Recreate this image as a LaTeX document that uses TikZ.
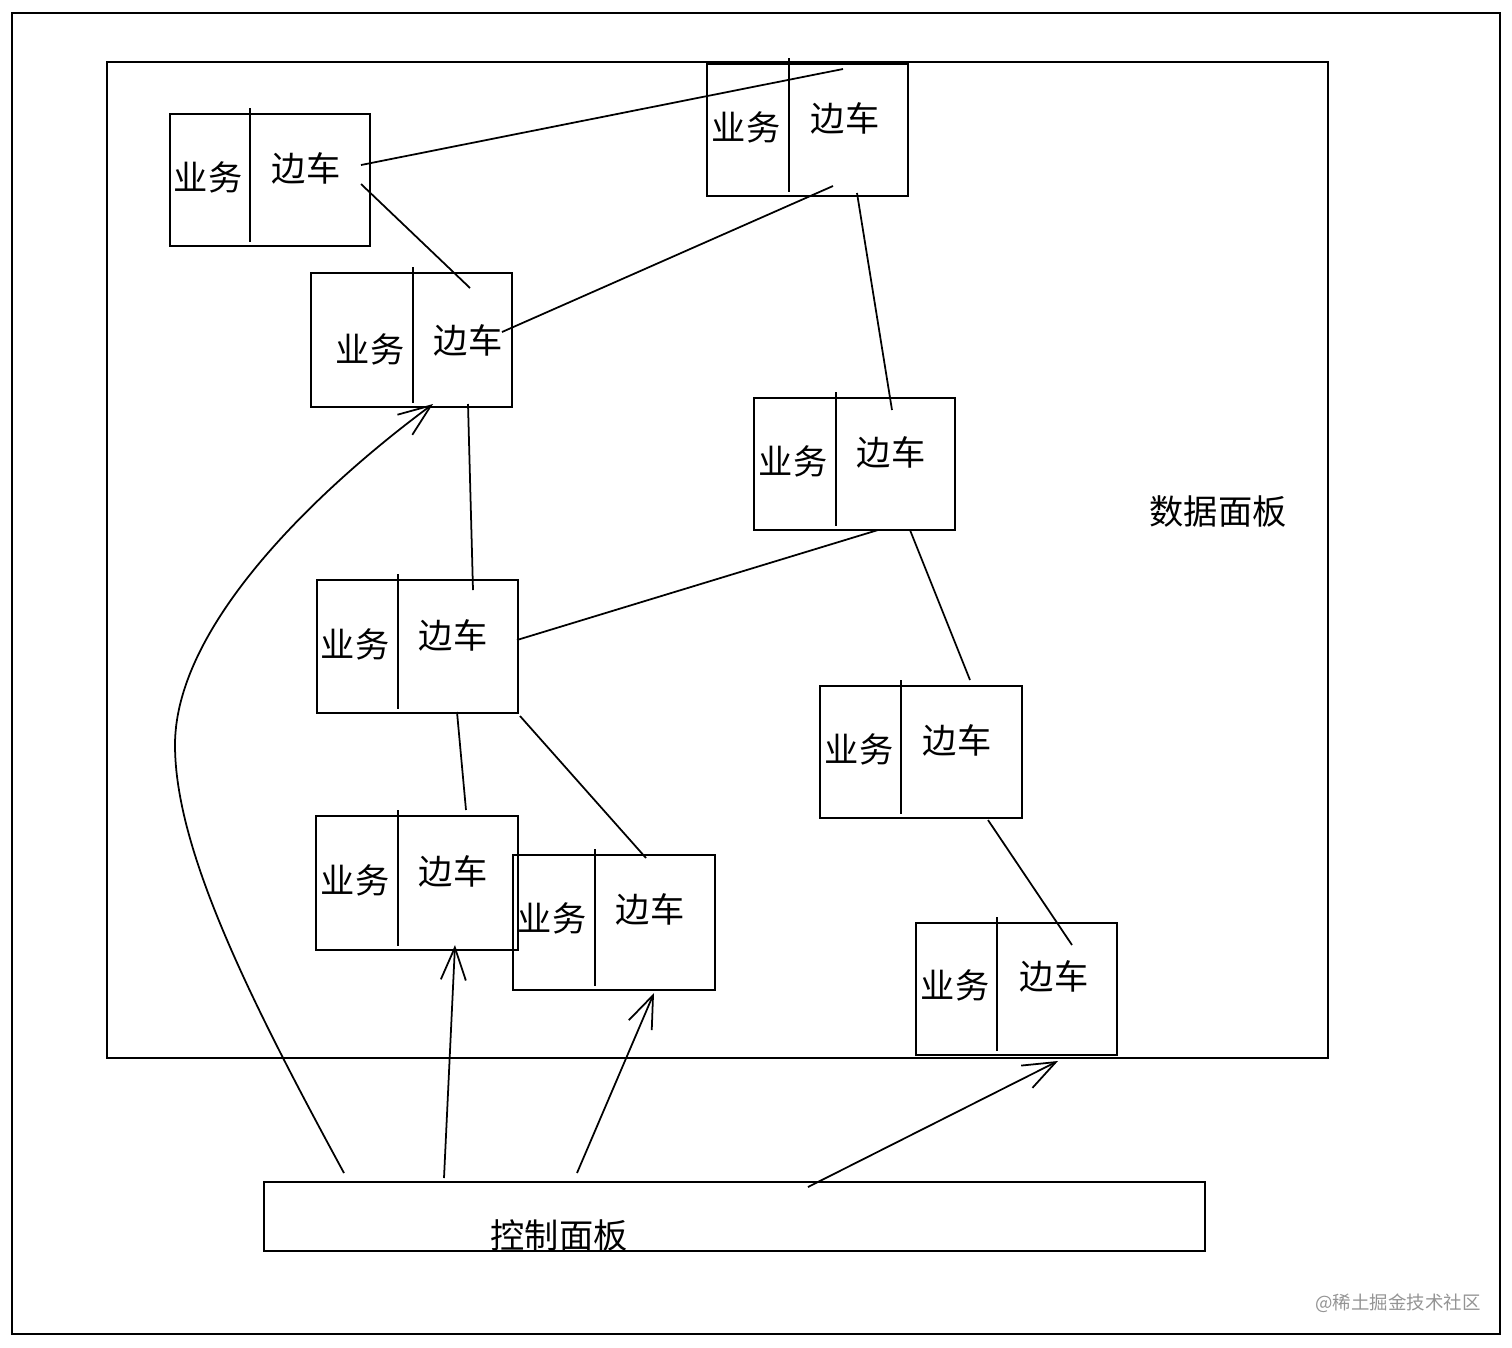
\documentclass[tikz,border=0pt]{standalone}
\usepackage{fontspec}
\setmainfont{Noto Sans CJK SC}
\usetikzlibrary{arrows.meta,fit}
\tikzset{
  ink/.style={line width=1.1pt, black},
  boxframe/.style={ink, draw, inner sep=0pt, rectangle},
  lbl/.style={inner sep=0pt, font=\fontsize{19.5pt}{22pt}\selectfont},
  link/.style={line width=1pt},
  feed/.style={line width=1pt, -{Straight Barb[length=6.5mm,width=5mm,line width=1pt]}},
}
% name, left, top, right, bottom, divider x, biz x, side x, side y
\newcommand\bizbox[9]{%
  \coordinate (#1-tl) at (#2,#3);
  \coordinate (#1-br) at (#4,#5);
  \node[boxframe, fit=(#1-tl)(#1-br)] (#1) {};
  \coordinate (#1-dt) at (#6,#3-6);
  \coordinate (#1-db) at (#6,#5-4);
  \draw[ink] (#1-dt) -- (#1-db);
  \node[lbl] (#1-b) at (#7,#9+9) {业务};
  \node[lbl] (#1-s) at (#8,#9) {边车};
}
\begin{document}
\begin{tikzpicture}[x=0.02cm,y=-0.02cm]
\useasboundingbox (0,0) rectangle (1512,1347);
% outer frame
\node[boxframe, fit={(12,13)(1500,1334)}] (outer) {};
% data panel
\node[boxframe, fit={(107,62)(1328,1058)}] (data) {};
\node[lbl] (datalbl) at (1218,512) {数据面板};
% control panel
\node[boxframe, fit={(264,1182)(1205,1251)}] (ctrl) {};
\node[lbl] (ctrllbl) at (559,1235) {控制面板};
% watermark
\node[inner sep=0pt, text=black!42, font=\fontsize{10.5pt}{12pt}\selectfont] (wm) at (1398,1303) {@稀土掘金技术社区};

% boxes
\bizbox{A}{170}{114}{370}{246}{250}{208}{306}{168}
\bizbox{B}{707}{64}{908}{196}{789}{746}{845}{118}
\bizbox{C}{311}{273}{512}{407}{413}{370}{468}{340}
\bizbox{D}{754}{398}{955}{530}{836}{793}{891}{452}
\bizbox{E}{317}{580}{518}{713}{398}{355}{453}{635}
\bizbox{F}{820}{686}{1022}{818}{901}{859}{957}{740}
\bizbox{G}{316}{816}{518}{950}{398}{355}{453}{871}
\bizbox{H}{513}{855}{715}{990}{595}{552}{650}{909}
\bizbox{I}{916}{923}{1117}{1055}{997}{955}{1054}{976}

% connector end points
\coordinate (ab1) at (361,165); \coordinate (ab2) at (843,69);
\coordinate (ac1) at (361,184); \coordinate (ac2) at (470,288);
\coordinate (cb1) at (502,332); \coordinate (cb2) at (833,186);
\coordinate (bd1) at (857,193); \coordinate (bd2) at (892,410);
\coordinate (ce1) at (468,404); \coordinate (ce2) at (473,590);
\coordinate (ed1) at (517,640); \coordinate (ed2) at (878,530);
\coordinate (df1) at (910,530); \coordinate (df2) at (970,680);
\coordinate (eg1) at (457,712); \coordinate (eg2) at (466,810);
\coordinate (eh1) at (520,716); \coordinate (eh2) at (646,858);
\coordinate (fi1) at (988,820); \coordinate (fi2) at (1072,945);

\draw[link] (ab1) -- (ab2);
\draw[link] (ac1) -- (ac2);
\draw[link] (cb1) -- (cb2);
\draw[link] (bd1) -- (bd2);
\draw[link] (ce1) -- (ce2);
\draw[link] (ed1) -- (ed2);
\draw[link] (df1) -- (df2);
\draw[link] (eg1) -- (eg2);
\draw[link] (eh1) -- (eh2);
\draw[link] (fi1) -- (fi2);

% arrows from control panel
\coordinate (k1) at (344,1173); \coordinate (t1) at (433,404);
\coordinate (k2) at (444,1178); \coordinate (t2) at (455,945);
\coordinate (k3) at (577,1173); \coordinate (t3) at (654,993);
\coordinate (k4) at (808,1187); \coordinate (t4) at (1058,1061);
\coordinate (bend) at (175,745);
\draw[feed] (k1) .. controls (250,1000) and (175,850) .. (bend)
  .. controls (175,620) and (330,480) .. (t1);
\draw[feed] (k2) -- (t2);
\draw[feed] (k3) -- (t3);
\draw[feed] (k4) -- (t4);
\end{tikzpicture}
\end{document}
